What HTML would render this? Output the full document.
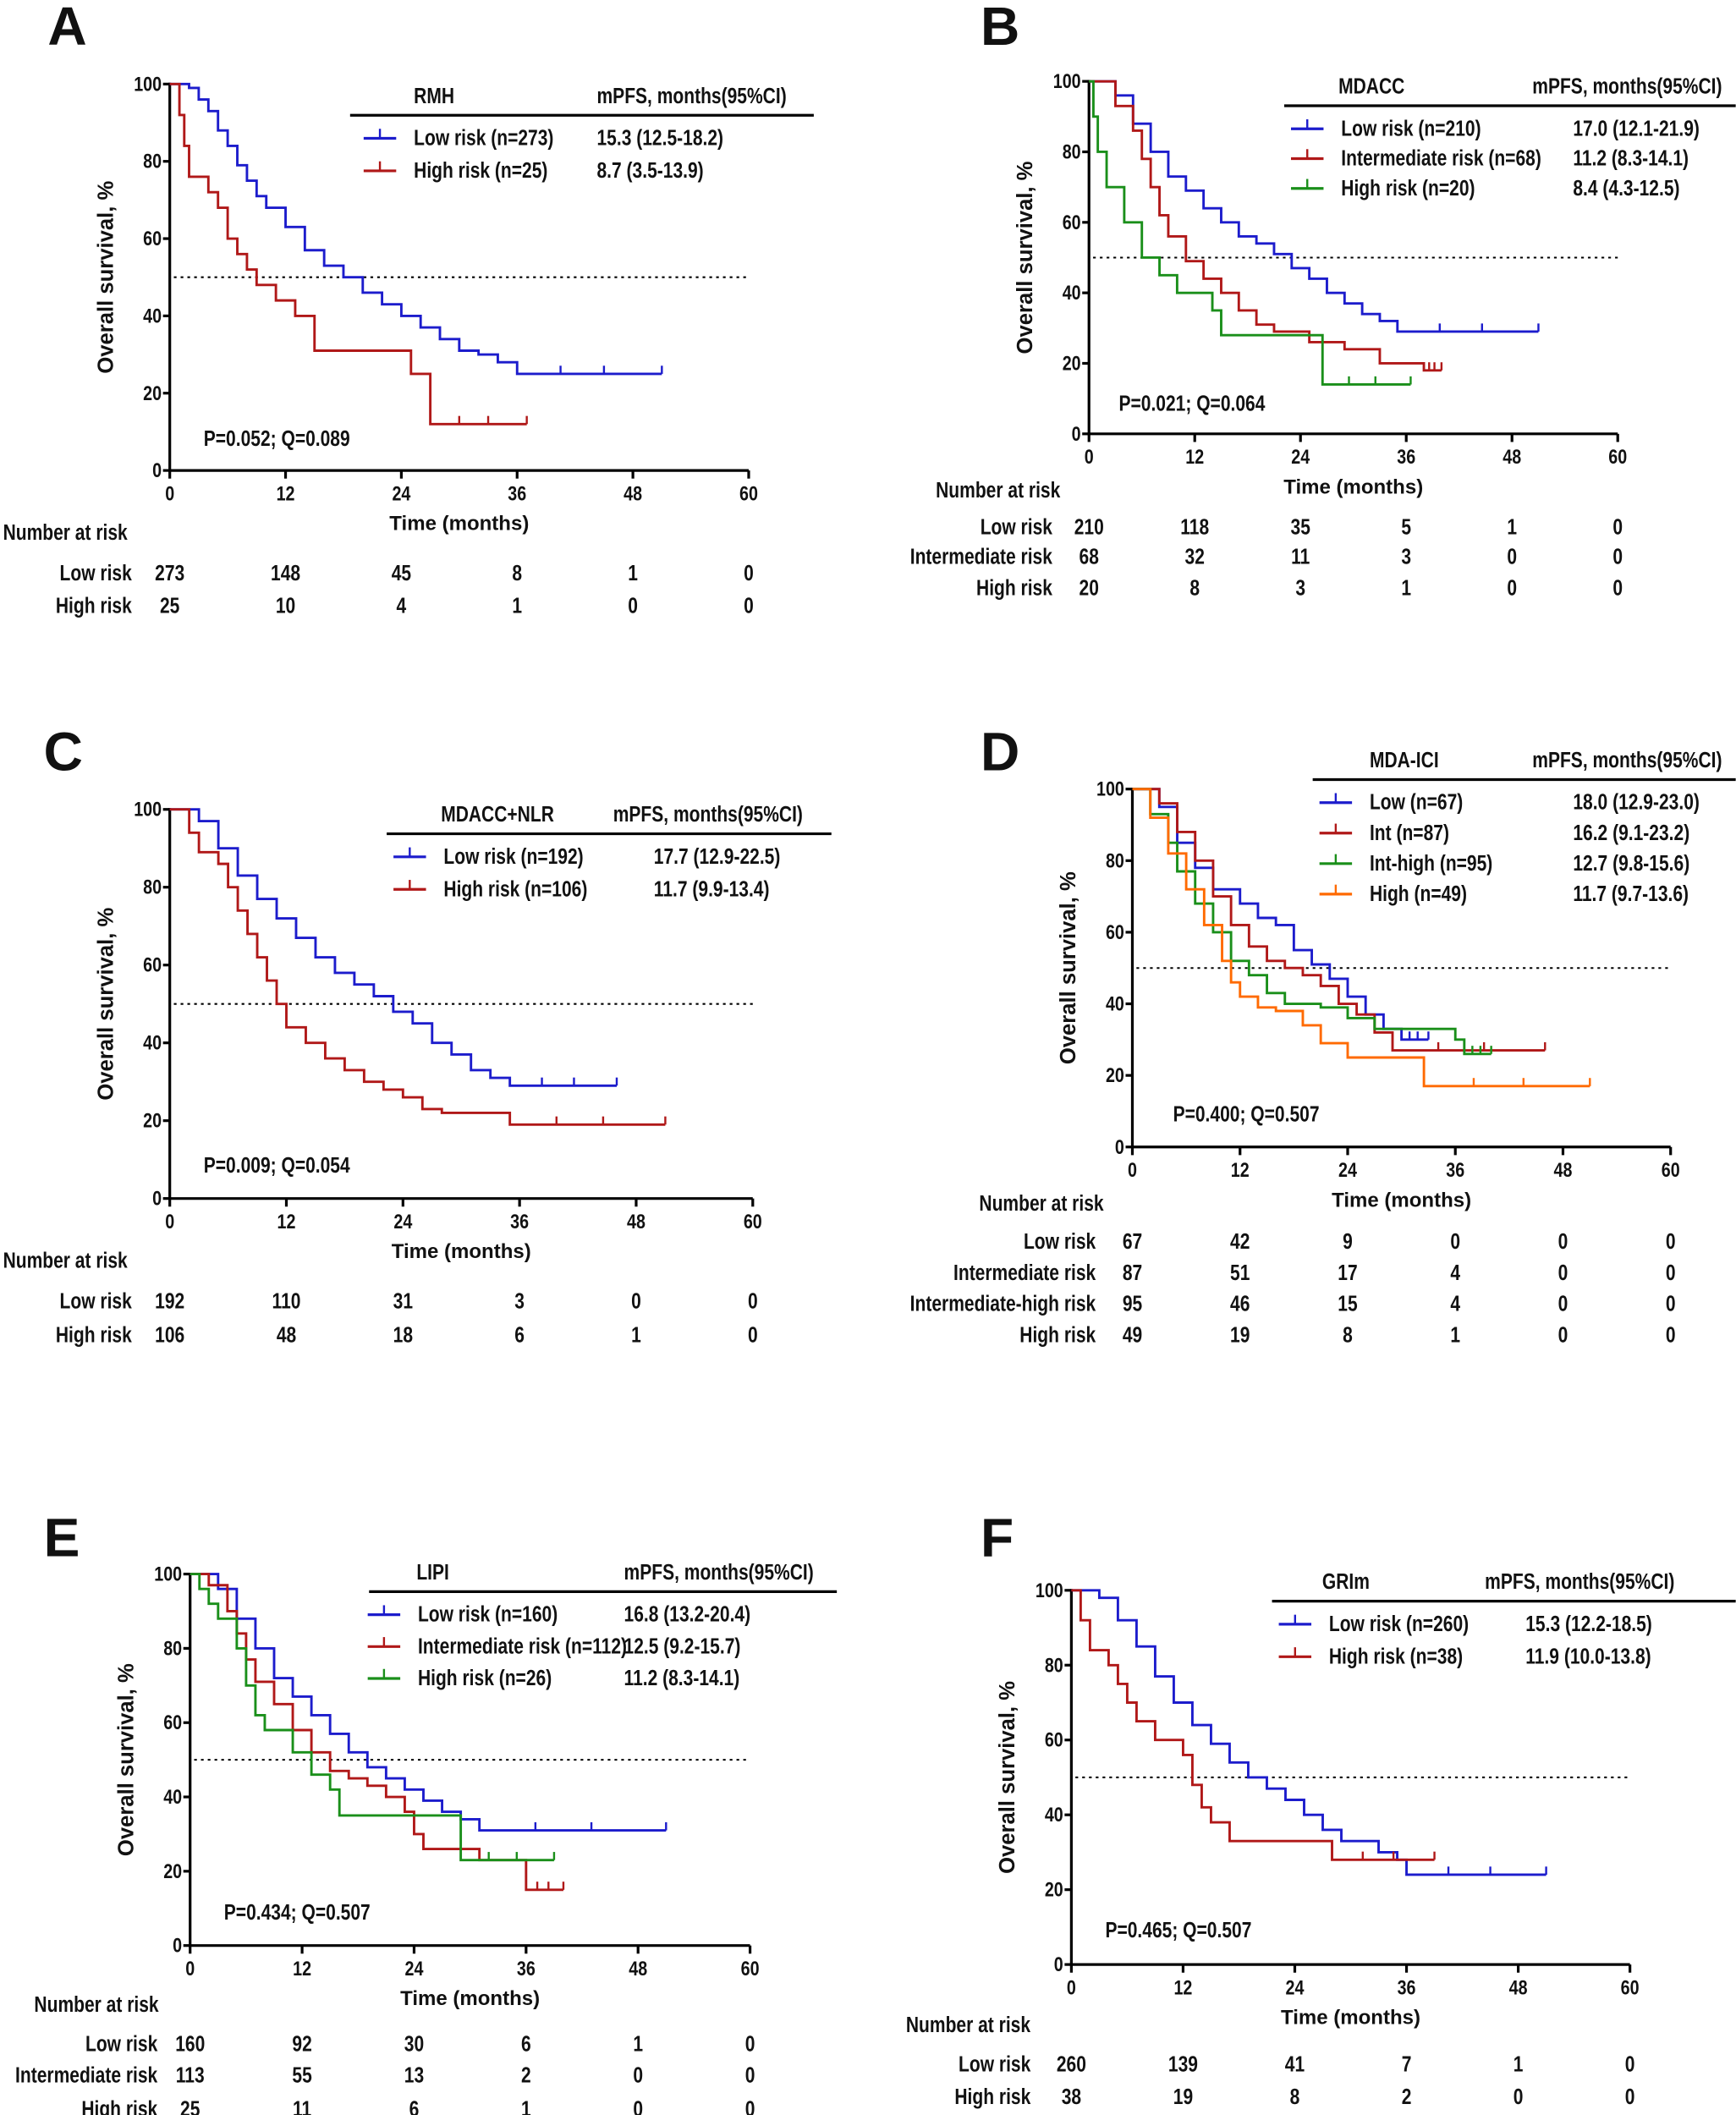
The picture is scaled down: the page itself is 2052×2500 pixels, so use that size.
<!DOCTYPE html>
<html><head><meta charset="utf-8"><style>
html,body{margin:0;padding:0;background:#fff}
svg{display:block}
text{font-family:"Liberation Sans",sans-serif;font-weight:bold;fill:#111}
</style></head><body>
<svg id="fig" width="2052" height="2500" viewBox="0 0 1280 1560" xmlns="http://www.w3.org/2000/svg"></svg>
<script>
// ===== Data =====
const xTicks=[0,12,24,36,48,60];
const yTicks=[0,20,40,60,80,100];
const colors={blue:"#1c1ccc",red:"#b01818",green:"#1a8f1a",orange:"#ff6a00"};

const A_low_t=[0,2,3,4,5,6,7,8,9,10,12,14,16,18,20,22,24,26,28,30,32,34,36,51];
const A_low_s=[100,99,96,93,88,84,79,75,71,68,63,57,53,50,46,43,40,37,34,31,30,28,25,25];
const A_high_t=[0,1,1.5,2,4,5,6,7,8,9,11,13,15,24,25,27,37];
const A_high_s=[100,92,84,76,72,68,60,56,52,48,44,40,31,31,25,12,12];

const B_low_t=[0,3,5,7,9,11,13,15,17,19,21,23,25,27,29,31,33,35,51];
const B_low_s=[100,96,88,80,73,69,64,60,56,54,51,47,44,40,37,34,32,29,29];
const B_int_t=[0,3,5,6,7,8,9,11,13,15,17,19,21,25,29,33,38,40];
const B_int_s=[100,93,86,78,70,62,56,49,44,40,35,31,29,26,24,20,18,18];
const B_high_t=[0,0.5,1,2,4,6,8,10,14,15,26,26.5,36.5];
const B_high_s=[100,90,80,70,60,50,45,40,35,28,28,14,14];

const C_low_t=[0,3,5,7,9,11,13,15,17,19,21,23,25,27,29,31,33,35,46];
const C_low_s=[100,97,90,83,77,72,67,62,58,55,52,48,45,40,37,33,31,29,29];
const C_high_t=[0,2,3,5,6,7,8,9,10,11,12,14,16,18,20,22,24,26,28,35,51];
const C_high_s=[100,94,89,86,80,74,68,62,56,50,44,40,36,33,30,28,26,23,22,19,19];

const D_low_t=[0,3,5,7,9,12,14,16,18,20,22,24,26,28,30,33];
const D_low_s=[100,95,85,78,72,68,64,62,55,51,47,42,37,33,30,30];
const D_int_t=[0,3,5,7,9,11,13,15,17,19,21,23,25,27,29,46];
const D_int_s=[100,96,88,80,70,62,56,52,50,48,45,40,37,32,27,27];
const D_ih_t=[0,2,4,5,7,9,11,13,15,17,21,24,27,33,36,37,40];
const D_ih_s=[100,93,85,77,68,60,52,48,43,40,39,36,33,33,30,26,26];
const D_high_t=[0,2,4,6,8,10,11,12,14,16,19,21,24,32,32.5,51];
const D_high_s=[100,92,82,72,62,52,46,42,39,38,34,29,25,25,17,17];

const E_low_t=[0,3,5,7,9,11,13,15,17,19,21,23,25,27,29,31,51];
const E_low_s=[100,96,88,80,72,67,62,57,52,48,45,42,39,36,34,31,31];
const E_int_t=[0,2,4,5,6,7,9,11,13,15,17,19,21,23,24,25,29,31,35,36,40];
const E_int_s=[100,97,90,84,77,71,65,58,52,47,45,43,40,36,30,26,26,23,23,15,15];
const E_high_t=[0,1,2,3,5,6,7,8,11,13,15,16,28,29,39];
const E_high_s=[100,96,92,88,80,70,62,58,52,46,42,35,35,23,23];

const F_low_t=[0,3,5,7,9,11,13,15,17,19,21,23,25,27,29,33,35,36,51];
const F_low_s=[100,98,92,85,77,70,64,59,54,50,47,44,40,36,33,30,28,24,24];
const F_high_t=[0,1,2,4,5,6,7,9,12,13,14,15,17,24,28,39];
const F_high_s=[100,92,84,80,75,70,65,60,56,48,42,38,33,33,28,28];

const A_risk_low=[273,148,45,8,1,0], A_risk_high=[25,10,4,1,0,0];
const B_risk_low=[210,118,35,5,1,0], B_risk_int=[68,32,11,3,0,0], B_risk_high=[20,8,3,1,0,0];
const C_risk_low=[192,110,31,3,0,0], C_risk_high=[106,48,18,6,1,0];
const D_risk_low=[67,42,9,0,0,0], D_risk_int=[87,51,17,4,0,0], D_risk_ih=[95,46,15,4,0,0], D_risk_high=[49,19,8,1,0,0];
const E_risk_low=[160,92,30,6,1,0], E_risk_int=[113,55,13,2,0,0], E_risk_high=[25,11,6,1,0,0];
const F_risk_low=[260,139,41,7,1,0], F_risk_high=[38,19,8,2,0,0];

// ===== Drawing =====
const NS="http://www.w3.org/2000/svg";
const svg=document.getElementById('fig');
function mk(tag,attrs,parent,txt){const e=document.createElementNS(NS,tag);for(const k in attrs)e.setAttribute(k,attrs[k]);if(txt!==undefined)e.textContent=txt;(parent||svg).appendChild(e);return e;}
function nt(x,y,size,anchor,str,parent){return mk('text',{x:0,y:0,transform:`translate(${x},${y}) scale(0.82,1)`,'font-size':size,'text-anchor':anchor||'start'},parent,str);}

function panel(P){
  const g=mk('g',{});
  
  
  const X=t=>P.x0+(P.x1-P.x0)*t/60;
  const Y=s=>P.y0-(P.y0-P.y1)*s/100;
  const L=mk('text',{x:P.lx,y:P.ly,'font-size':40},g,P.letter);
  
  
  const ax=mk('path',{d:`M${P.x0},${P.y1-1}V${P.y0}H${P.x1}`,stroke:'#000','stroke-width':2,fill:'none'},g);
  
  
  xTicks.forEach(t=>{
    mk('line',{x1:X(t),x2:X(t),y1:P.y0,y2:P.y0+6,stroke:'#000','stroke-width':2},g);
    const tl=nt(X(t),P.y0+22,15,'middle',t,g);
    
    
  });
  yTicks.forEach(s=>{
    mk('line',{x1:P.x0-5,x2:P.x0,y1:Y(s),y2:Y(s),stroke:'#000','stroke-width':2},g);
    const tl=nt(P.x0-6,Y(s)+5,15,'end',s,g);
    
    
  });
  const yt=mk('text',{transform:`translate(${P.x0-42},${(P.y0+P.y1)/2}) rotate(-90)`,'text-anchor':'middle','font-size':16},g,'Overall survival, %');
  
  
  const xt=mk('text',{x:(X(24)+X(36))/2,y:P.y0+44,'font-size':15,'text-anchor':'middle'},g,'Time (months)');
  
  
  const med=mk('line',{x1:X(0)+3,x2:X(60),y1:Y(50),y2:Y(50),stroke:'#000','stroke-width':1.3,'stroke-dasharray':'2,3'},g);
  
  
  P.series.forEach(se=>{
    let d=`M${X(se.t[0])},${Y(se.s[0])}`;
    for(let i=1;i<se.t.length;i++){d+=`H${X(se.t[i])}V${Y(se.s[i])}`;}
    const p=mk('path',{d:d,stroke:se.c,'stroke-width':1.8,fill:'none'},g);
    
    
    const n=se.t.length;
    const tEnd=se.t[n-1], tPrev=se.t[n-2];
    [tPrev+(tEnd-tPrev)*0.3,tPrev+(tEnd-tPrev)*0.6,tEnd].forEach(tc=>{
      mk('line',{x1:X(tc),x2:X(tc),y1:Y(se.s[n-1]),y2:Y(se.s[n-1])-6,stroke:se.c,'stroke-width':1.5},g);
    });
  });
  const lg=mk('g',{},g);
  
  
  mk('line',{x1:P.lg.x,x2:P.lg.x2,y1:P.lg.y,y2:P.lg.y,stroke:'#000','stroke-width':2},lg);
  nt(P.lg.hx,P.lg.y-9,16,'start',P.lg.title,lg);
  nt(P.lg.mx,P.lg.y-9,16,'start','mPFS, months(95%CI)',lg);
  const so=P.lg.so||0;
  P.series.forEach((se,i)=>{
    const yy=P.lg.y+17+i*P.lg.dy;
    const en=mk('g',{},lg);
    
    
    mk('line',{x1:P.lg.x+10+so,x2:P.lg.x+34+so,y1:yy,y2:yy,stroke:se.c,'stroke-width':2},en);
    mk('line',{x1:P.lg.x+22+so,x2:P.lg.x+22+so,y1:yy,y2:yy-7,stroke:se.c,'stroke-width':1.5},en);
    nt(P.lg.x+47+so,yy+5,16,'start',se.label,en);
    nt(P.lg.vx,yy+5,16,'start',se.m,en);
  });
  const pv=nt(P.px,P.py,16,'start',P.ptext,g);
  
  
  const rt=mk('g',{},g);
  
  
  nt(P.nx,P.ny,16,'start','Number at risk',rt);
  P.risk.forEach((r,i)=>{
    const yy=P.ry[i];
    nt(P.rlx,yy,16,'end',r.label,rt);
    r.v.forEach((v,j)=>nt(X(xTicks[j]),yy,16,'middle',v,rt));
  });
}

panel({letter:'A',lx:35,ly:33,x0:125,y0:347,x1:552,y1:62,
  series:[{key:'low',t:A_low_t,s:A_low_s,c:colors.blue,label:'Low risk (n=273)',m:'15.3 (12.5-18.2)'},
          {key:'high',t:A_high_t,s:A_high_s,c:colors.red,label:'High risk (n=25)',m:'8.7 (3.5-13.9)'}],
  lg:{x:258,x2:600,y:85,hx:305,mx:440,vx:440,dy:24,title:'RMH'},px:150,py:329,ptext:'P=0.052; Q=0.089',
  nx:2,ny:398,rlx:97,ry:[428,452],risk:[{label:'Low risk',v:A_risk_low},{label:'High risk',v:A_risk_high}]});

panel({letter:'B',lx:723,ly:33,x0:803,y0:320,x1:1193,y1:60,
  series:[{key:'low',t:B_low_t,s:B_low_s,c:colors.blue,label:'Low risk (n=210)',m:'17.0 (12.1-21.9)'},
          {key:'int',t:B_int_t,s:B_int_s,c:colors.red,label:'Intermediate risk (n=68)',m:'11.2 (8.3-14.1)'},
          {key:'high',t:B_high_t,s:B_high_s,c:colors.green,label:'High risk (n=20)',m:'8.4 (4.3-12.5)'}],
  lg:{x:947,x2:1280,y:78,hx:987,mx:1130,vx:1160,dy:22,title:'MDACC',so:-5},px:825,py:303,ptext:'P=0.021; Q=0.064',
  nx:690,ny:367,rlx:776,ry:[394,416,439],risk:[{label:'Low risk',v:B_risk_low},{label:'Intermediate risk',v:B_risk_int},{label:'High risk',v:B_risk_high}]});

panel({letter:'C',lx:32,ly:568,x0:125,y0:884,x1:555,y1:597,
  series:[{key:'low',t:C_low_t,s:C_low_s,c:colors.blue,label:'Low risk (n=192)',m:'17.7 (12.9-22.5)'},
          {key:'high',t:C_high_t,s:C_high_s,c:colors.red,label:'High risk (n=106)',m:'11.7 (9.9-13.4)'}],
  lg:{x:285,x2:613,y:615,hx:325,mx:452,vx:482,dy:24,title:'MDACC+NLR',so:-5},px:150,py:865,ptext:'P=0.009; Q=0.054',
  nx:2,ny:935,rlx:97,ry:[965,990],risk:[{label:'Low risk',v:C_risk_low},{label:'High risk',v:C_risk_high}]});

panel({letter:'D',lx:723,ly:568,x0:835,y0:846,x1:1232,y1:582,
  series:[{key:'low',t:D_low_t,s:D_low_s,c:colors.blue,label:'Low  (n=67)',m:'18.0 (12.9-23.0)'},
          {key:'int',t:D_int_t,s:D_int_s,c:colors.red,label:'Int (n=87)',m:'16.2 (9.1-23.2)'},
          {key:'int-high',t:D_ih_t,s:D_ih_s,c:colors.green,label:'Int-high (n=95)',m:'12.7 (9.8-15.6)'},
          {key:'high',t:D_high_t,s:D_high_s,c:colors.orange,label:'High (n=49)',m:'11.7 (9.7-13.6)'}],
  lg:{x:968,x2:1280,y:575,hx:1010,mx:1130,vx:1160,dy:22.5,title:'MDA-ICI',so:-5},px:865,py:827,ptext:'P=0.400; Q=0.507',
  nx:722,ny:893,rlx:808,ry:[921,944,967,990],risk:[{label:'Low risk',v:D_risk_low},{label:'Intermediate risk',v:D_risk_int},{label:'Intermediate-high risk',v:D_risk_ih},{label:'High risk',v:D_risk_high}]});

panel({letter:'E',lx:32,ly:1148,x0:140,y0:1435,x1:553,y1:1161,
  series:[{key:'low',t:E_low_t,s:E_low_s,c:colors.blue,label:'Low risk (n=160)',m:'16.8 (13.2-20.4)'},
          {key:'int',t:E_int_t,s:E_int_s,c:colors.red,label:'Intermediate risk (n=112)',m:'12.5 (9.2-15.7)'},
          {key:'high',t:E_high_t,s:E_high_s,c:colors.green,label:'High risk (n=26)',m:'11.2 (8.3-14.1)'}],
  lg:{x:272,x2:617,y:1174,hx:307,mx:460,vx:460,dy:23.5,title:'LIPI',so:-11},px:165,py:1416,ptext:'P=0.434; Q=0.507',
  nx:25,ny:1484,rlx:116,ry:[1513,1536,1561],risk:[{label:'Low risk',v:E_risk_low},{label:'Intermediate risk',v:E_risk_int},{label:'High risk',v:E_risk_high}]});

panel({letter:'F',lx:723,ly:1148,x0:790,y0:1449,x1:1202,y1:1173,
  series:[{key:'low',t:F_low_t,s:F_low_s,c:colors.blue,label:'Low risk (n=260)',m:'15.3 (12.2-18.5)'},
          {key:'high',t:F_high_t,s:F_high_s,c:colors.red,label:'High risk (n=38)',m:'11.9 (10.0-13.8)'}],
  lg:{x:938,x2:1280,y:1181,hx:975,mx:1095,vx:1125,dy:24,title:'GRIm',so:-5},px:815,py:1429,ptext:'P=0.465; Q=0.507',
  nx:668,ny:1499,rlx:760,ry:[1528,1552],risk:[{label:'Low risk',v:F_risk_low},{label:'High risk',v:F_risk_high}]});
</script>
</body></html>
